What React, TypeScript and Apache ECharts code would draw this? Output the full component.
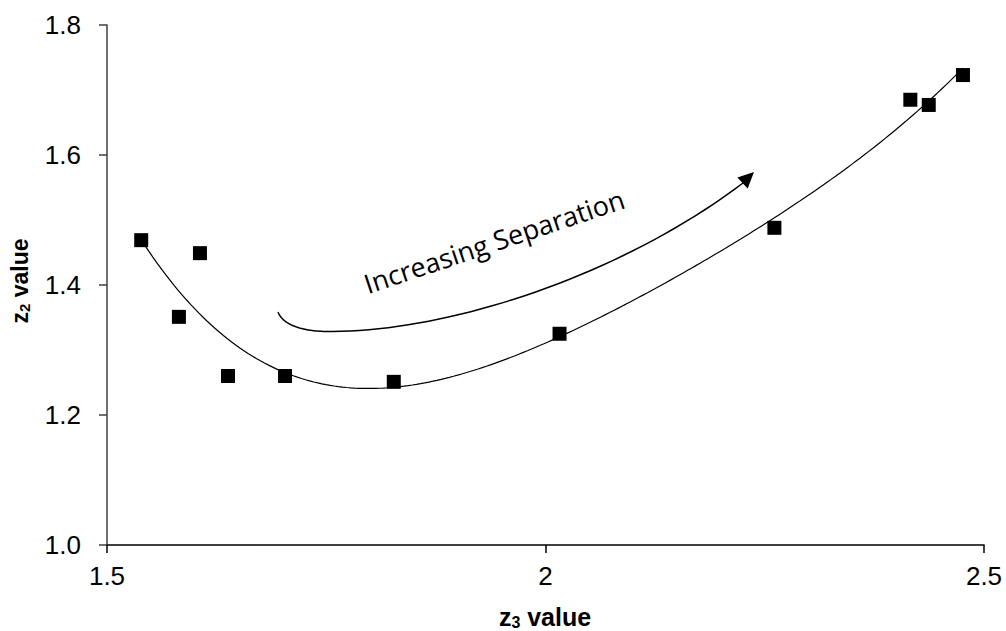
import React, { useEffect, useRef } from "react";
import * as echarts from "echarts";

// Measured points (z3, z2)
const z3Values = [1.539, 1.582, 1.606, 1.638, 1.703, 1.827, 2.016, 2.261, 2.416, 2.437, 2.476];
const z2Values = [1.469, 1.351, 1.449, 1.260, 1.260, 1.251, 1.325, 1.488, 1.685, 1.677, 1.723];

const xTicks = [1.5, 2, 2.5];
const yTicks = [1.0, 1.2, 1.4, 1.6, 1.8];

const trendOrder = 4;
const annotationText = "Increasing Separation";

// Least-squares polynomial fit, returns coefficients c0..cn
function fitPoly(xs: number[], ys: number[], order: number): number[] {
  const n = order + 1;
  const x0 = xs.reduce((a, b) => a + b, 0) / xs.length;
  const A: number[][] = [];
  for (let i = 0; i < n; i++) {
    const row: number[] = [];
    for (let j = 0; j < n; j++) {
      let s = 0;
      for (const x of xs) s += Math.pow(x - x0, i + j);
      row.push(s);
    }
    let b = 0;
    xs.forEach((x, k) => (b += Math.pow(x - x0, i) * ys[k]));
    row.push(b);
    A.push(row);
  }
  for (let c = 0; c < n; c++) {
    let p = c;
    for (let r = c + 1; r < n; r++) if (Math.abs(A[r][c]) > Math.abs(A[p][c])) p = r;
    [A[c], A[p]] = [A[p], A[c]];
    for (let r = 0; r < n; r++) {
      if (r === c) continue;
      const f = A[r][c] / A[c][c];
      for (let k = c; k <= n; k++) A[r][k] -= f * A[c][k];
    }
  }
  const coef = A.map((row, i) => row[n] / row[i]);
  return [x0, ...coef];
}

function trendPoints(): number[][] {
  const [x0, ...coef] = fitPoly(z3Values, z2Values, trendOrder);
  const lo = Math.min(...z3Values);
  const hi = Math.max(...z3Values);
  const pts: number[][] = [];
  const steps = 200;
  for (let i = 0; i <= steps; i++) {
    const x = lo + ((hi - lo) * i) / steps;
    const y = coef.reduce((s, c, k) => s + c * Math.pow(x - x0, k), 0);
    pts.push([x, y]);
  }
  return pts;
}

// evaluate a cubic bezier into a dense list of points
function bezier(p0: number[], p1: number[], p2: number[], p3: number[], steps = 40): number[][] {
  const out: number[][] = [];
  for (let i = 0; i <= steps; i++) {
    const t = i / steps;
    const u = 1 - t;
    out.push([
      u * u * u * p0[0] + 3 * u * u * t * p1[0] + 3 * u * t * t * p2[0] + t * t * t * p3[0],
      u * u * u * p0[1] + 3 * u * u * t * p1[1] + 3 * u * t * t * p2[1] + t * t * t * p3[1],
    ]);
  }
  return out;
}

export default function App() {
  const ref = useRef<HTMLDivElement>(null);

  useEffect(() => {
    if (!ref.current) return;
    const chart = echarts.init(ref.current, undefined, { renderer: "svg" });
    const font = "'Liberation Sans', Arial, sans-serif";

    // curved arrow of the annotation
    const arrowPath = [
      ...bezier([278, 312], [283, 325], [303, 332], [332, 331.5]),
      ...bezier([332, 331.5], [450, 331], [620, 276], [743, 183]).slice(1),
    ];
    const tip = [754, 172];
    const base = [742.5, 183];
    const dx = tip[0] - base[0];
    const dy = tip[1] - base[1];
    const len = Math.hypot(dx, dy);
    const nx = -dy / len;
    const ny = dx / len;
    const hw = 7.5;

    chart.setOption({
      animation: false,
      backgroundColor: "#ffffff",
      grid: { left: 107, right: 22, top: 25, bottom: 86, containLabel: false },
      xAxis: {
        type: "value",
        min: 1.5,
        max: 2.5,
        interval: 0.5,
        axisLine: { show: true, onZero: false, lineStyle: { color: "#000", width: 1.5 } },
        axisTick: { show: true, length: 8, lineStyle: { color: "#000", width: 1.5 } },
        axisLabel: {
          fontSize: 26,
          fontFamily: font,
          color: "#000",
          margin: 18,
          formatter: (v: number) => (xTicks.includes(v) ? String(v) : ""),
        },
        splitLine: { show: false },
      },
      yAxis: {
        type: "value",
        min: 1.0,
        max: 1.8,
        interval: 0.2,
        axisLine: { show: true, onZero: false, lineStyle: { color: "#404040", width: 1.5 } },
        axisTick: { show: true, length: 8, lineStyle: { color: "#404040", width: 1.5 } },
        axisLabel: {
          fontSize: 26,
          fontFamily: font,
          color: "#000",
          margin: 26,
          formatter: (v: number) => {
            const t = yTicks.find((y) => Math.abs(y - v) < 1e-9);
            return t === undefined ? "" : t.toFixed(1);
          },
        },
        splitLine: { show: false },
      },
      series: [
        {
          type: "line",
          data: trendPoints(),
          showSymbol: false,
          symbol: "none",
          lineStyle: { color: "#000", width: 1.2 },
          z: 2,
        },
        {
          type: "scatter",
          data: z3Values.map((x, i) => [x, z2Values[i]]),
          symbol: "rect",
          symbolSize: 14,
          itemStyle: { color: "#000", opacity: 1 },
          z: 3,
        },
      ],
      graphic: [
        {
          type: "polyline",
          shape: { points: arrowPath },
          style: { stroke: "#000", lineWidth: 1.5, fill: null },
        },
        {
          type: "polygon",
          shape: {
            points: [
              tip,
              [base[0] + nx * hw, base[1] + ny * hw],
              [base[0] - nx * hw, base[1] - ny * hw],
            ],
          },
          style: { fill: "#000" },
        },
        {
          type: "text",
          x: 494,
          y: 241,
          rotation: (18.5 * Math.PI) / 180,
          style: {
            text: annotationText,
            fontSize: 27,
            fontFamily: "'Open Sans', sans-serif",
            fill: "#000",
            align: "center",
            verticalAlign: "middle",
          },
        },
        {
          type: "text",
          x: 545,
          y: 617,
          style: {
            text: "{b|z}{s|3}{b| value}",
            align: "center",
            verticalAlign: "middle",
            rich: {
              b: { fontSize: 25, fontWeight: "bold", fontFamily: font, fill: "#000", lineHeight: 26 },
              s: { fontSize: 16, fontWeight: "bold", fontFamily: font, fill: "#000", lineHeight: 26, verticalAlign: "bottom", padding: [11, 0, 0, 0] },
            },
          },
        },
        {
          type: "text",
          x: 20,
          y: 281,
          rotation: Math.PI / 2,
          style: {
            text: "{b|z}{s|2}{b| value}",
            align: "center",
            verticalAlign: "middle",
            rich: {
              b: { fontSize: 23, fontWeight: "bold", fontFamily: font, fill: "#000", lineHeight: 24 },
              s: { fontSize: 15, fontWeight: "bold", fontFamily: font, fill: "#000", lineHeight: 24, verticalAlign: "bottom", padding: [10, 0, 0, 0] },
            },
          },
        },
      ],
    });

    return () => chart.dispose();
  }, []);

  return (
    <div
      ref={ref}
      style={{ position: "absolute", left: 0, top: 0, width: 1006, height: 631, background: "#fff" }}
    />
  );
}
